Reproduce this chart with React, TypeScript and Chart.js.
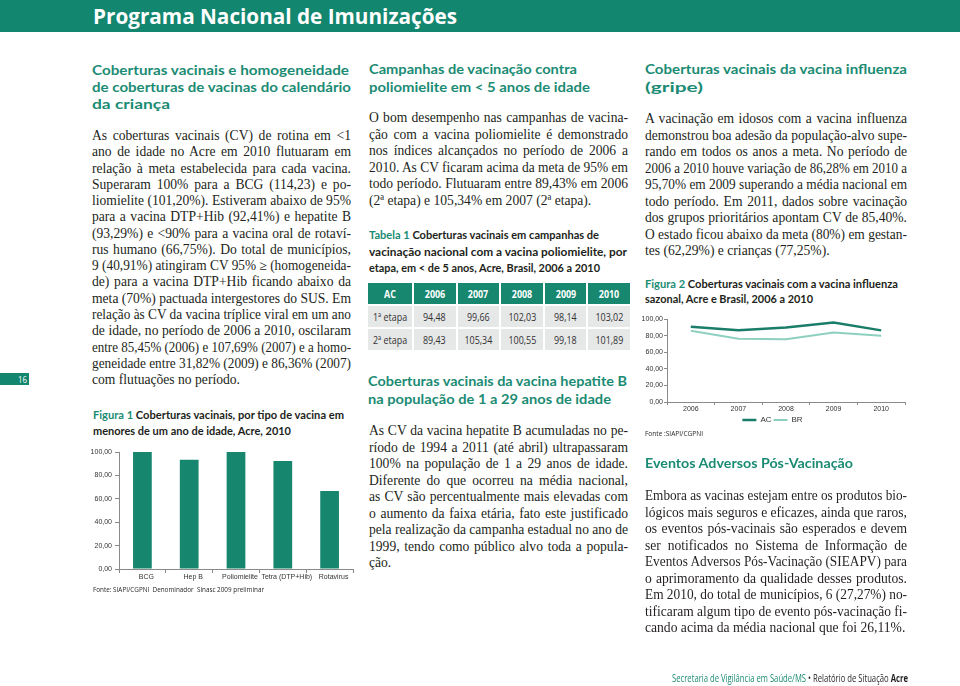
import React, { useEffect, useLayoutEffect, useRef } from "react";
import { Chart, registerables } from "chart.js";
Chart.register(...registerables);

// ---------- data ----------
const vaccineLabels = ["BCG", "Hep B", "Poliomielite", "Tetra (DTP+Hib)", "Rotavirus"];
const vaccineCoverage = [114.23, 93.29, 101.2, 92.41, 66.75];
const fluYears = ["2006", "2007", "2008", "2009", "2010"];
const fluAC = [90.6, 86.3, 89.8, 95.7, 86.28];
const fluBR = [85.8, 76.2, 75.5, 83.6, 79.8];
const seriesNames = ["AC", "BR"];
const tableYears = ["2006", "2007", "2008", "2009", "2010"];
const polioEtapa1 = ["94,48", "99,66", "102,03", "98,14", "103,02"];
const polioEtapa2 = ["89,43", "105,34", "100,55", "99,18", "101,89"];
const etapaLabels = ["1ª etapa", "2ª etapa"];

// ---------- style ----------
const TEAL = "#13866f";
const HEAD = "#1b8b74";
const INK = "#231f20";
const SANS = "'Open Sans', 'Noto Sans', sans-serif";
const HSANS = "Lato, 'Open Sans', sans-serif";
const SERIF = "'Liberation Serif', 'Times New Roman', serif";
const CF = "'Liberation Sans', Arial, sans-serif";

type LnProps = {
  x: number; y: number; w: number; size: number; lh?: number; font?: string;
  weight?: number | string; color?: string; mode?: "justify" | "fit" | "left"; children: any;
};

function Ln({ x, y, w, size, lh = 16, font = SERIF, weight = 400, color = INK, mode = "justify", children }: LnProps) {
  return (
    <div
      data-mode={mode}
      style={{
        position: "absolute", left: x, top: y - lh / 2, width: w, height: lh, lineHeight: lh + "px",
        fontSize: size, fontFamily: font, fontWeight: weight as any, color, whiteSpace: "nowrap",
      }}
    >
      <span style={{ display: "inline-block", transformOrigin: "0 50%" }}>{children}</span>
    </div>
  );
}

function Body({ x, y0, w, step, lines }: { x: number; y0: number; w: number; step: number; lines: string[] }) {
  return (
    <>
      {lines.map((t, i) => (
        <Ln key={i} x={x} y={y0 + i * step} w={w} size={13.6} lh={16} mode={i === lines.length - 1 ? "left" : "justify"}>
          {t}
        </Ln>
      ))}
    </>
  );
}

function Head({ x, y0, step, lines }: { x: number; y0: number; step: number; lines: [string, number][] }) {
  return (
    <>
      {lines.map(([t, w], i) => (
        <Ln key={i} x={x} y={y0 + i * step} w={w} size={14} lh={16} font={HSANS} weight={700} color={HEAD} mode="fit">
          {t}
        </Ln>
      ))}
    </>
  );
}

function fitAll(root: HTMLElement) {
  root.querySelectorAll<HTMLElement>("[data-mode]").forEach((el) => {
    const span = el.firstElementChild as HTMLElement;
    span.style.wordSpacing = "";
    span.style.transform = "";
    const target = el.clientWidth;
    const nat = span.getBoundingClientRect().width;
    const mode = el.dataset.mode;
    if (!nat) return;
    if (mode === "fit" || nat > target) {
      span.style.transform = `scaleX(${target / nat})`;
      return;
    }
    if (mode === "justify") {
      const n = (span.textContent || "").split(" ").length - 1;
      if (n > 0) span.style.wordSpacing = (target - nat) / n + "px";
    }
  });
}

const col1 = [
  "As coberturas vacinais (CV) de rotina em <1",
  "ano de idade no Acre em 2010 flutuaram em",
  "relação à meta estabelecida para cada vacina.",
  "Superaram 100% para a BCG (114,23) e po-",
  "liomielite (101,20%). Estiveram abaixo de 95%",
  "para a vacina DTP+Hib (92,41%) e hepatite B",
  "(93,29%) e <90% para a vacina oral de rotaví-",
  "rus humano (66,75%). Do total de municípios,",
  "9 (40,91%) atingiram CV 95% ≥ (homogeneida-",
  "de) para a vacina DTP+Hib ficando abaixo da",
  "meta (70%) pactuada intergestores do SUS. Em",
  "relação às CV da vacina tríplice viral em um ano",
  "de idade, no período de 2006 a 2010, oscilaram",
  "entre 85,45% (2006) e 107,69% (2007) e a homo-",
  "geneidade entre 31,82% (2009) e 86,36% (2007)",
  "com flutuações no período.",
];
const col2a = [
  "O bom desempenho nas campanhas de vacina-",
  "ção com a vacina poliomielite é demonstrado",
  "nos índices alcançados no período de 2006 a",
  "2010. As CV ficaram acima da meta de 95% em",
  "todo período. Flutuaram entre 89,43% em 2006",
  "(2ª etapa) e 105,34% em 2007 (2ª etapa).",
];
const col2b = [
  "As CV da vacina hepatite B acumuladas no pe-",
  "ríodo de 1994 a 2011 (até abril) ultrapassaram",
  "100% na população de 1 a 29 anos de idade.",
  "Diferente do que ocorreu na média nacional,",
  "as CV são percentualmente mais elevadas com",
  "o aumento da faixa etária, fato este justificado",
  "pela realização da campanha estadual no ano de",
  "1999, tendo como público alvo toda a popula-",
  "ção.",
];
const col3a = [
  "A vacinação em idosos com a vacina influenza",
  "demonstrou boa adesão da população-alvo supe-",
  "rando em todos os anos a meta. No período de",
  "2006 a 2010 houve variação de 86,28% em 2010 a",
  "95,70% em 2009 superando a média nacional em",
  "todo período. Em 2011, dados sobre vacinação",
  "dos grupos prioritários apontam CV de 85,40%.",
  "O estado ficou abaixo da meta (80%) em gestan-",
  "tes (62,29%) e crianças (77,25%).",
];
const col3b = [
  "Embora as vacinas estejam entre os produtos bio-",
  "lógicos mais seguros e eficazes, ainda que raros,",
  "os eventos pós-vacinais são esperados e devem",
  "ser notificados no Sistema de Informação de",
  "Eventos Adversos Pós-Vacinação (SIEAPV) para",
  "o aprimoramento da qualidade desses produtos.",
  "Em 2010, do total de municípios, 6 (27,27%) no-",
  "tificaram algum tipo de evento pós-vacinação fi-",
  "cando acima da média nacional que foi 26,11%.",
];

const fmt = (v: any) => Number(v).toFixed(2).replace(".", ",");

function BarChart() {
  const ref = useRef<HTMLCanvasElement>(null);
  useEffect(() => {
    const ch = new Chart(ref.current!, {
      type: "bar",
      data: {
        labels: vaccineLabels,
        datasets: [{ data: vaccineCoverage, backgroundColor: "#17866f", barPercentage: 0.4, categoryPercentage: 1 }],
      },
      options: {
        animation: false, responsive: false, devicePixelRatio: 1,
        layout: { padding: { top: 12, right: 7, left: 0, bottom: 0 } },
        plugins: { legend: { display: false }, tooltip: { enabled: false } },
        scales: {
          x: {
            grid: { drawOnChartArea: false, tickLength: 4, color: "#8a8a8a", offset: true },
            border: { color: "#8a8a8a" },
            ticks: { font: { family: CF, size: 7 }, color: "#333", labelOffset: 4, padding: 0, maxRotation: 0, autoSkip: false },
            afterFit: (s: any) => { s.height = 16; },
          },
          y: {
            min: 0, max: 100,
            ticks: { stepSize: 20, callback: fmt, font: { family: CF, size: 7 }, color: "#333", padding: 3 },
            grid: { drawOnChartArea: false, tickLength: 4, color: "#8a8a8a" },
            border: { color: "#8a8a8a" },
            afterFit: (s: any) => { s.width = 39; },
          },
        },
      } as any,
    });
    return () => ch.destroy();
  }, []);
  return <canvas ref={ref} width={280} height={145} style={{ position: "absolute", left: 80, top: 440 }} />;
}

function LineChart() {
  const ref = useRef<HTMLCanvasElement>(null);
  useEffect(() => {
    const ch = new Chart(ref.current!, {
      type: "line",
      data: {
        labels: fluYears,
        datasets: [
          { label: seriesNames[0], data: fluAC, borderColor: "#1a7d69", backgroundColor: "#1a7d69", borderWidth: 2.5, pointRadius: 0, tension: 0 },
          { label: seriesNames[1], data: fluBR, borderColor: "#8ed0bf", backgroundColor: "#8ed0bf", borderWidth: 2, pointRadius: 0, tension: 0 },
        ],
      },
      options: {
        animation: false, responsive: false, devicePixelRatio: 1,
        layout: { padding: { top: 11, right: 5, left: 0, bottom: 0 } },
        plugins: {
          tooltip: { enabled: false },
          legend: {
            position: "bottom",
            labels: { usePointStyle: true, pointStyle: "line", pointStyleWidth: 14, padding: 2, font: { family: CF, size: 8 }, color: "#333" },
          },
        },
        scales: {
          x: {
            offset: true,
            grid: { drawOnChartArea: false, tickLength: 3, color: "#8a8a8a", offset: true },
            border: { color: "#8a8a8a" },
            ticks: { font: { family: CF, size: 7 }, color: "#333", padding: 0, maxRotation: 0 },
            afterFit: (s: any) => { s.height = 12; },
          },
          y: {
            min: 0, max: 100,
            ticks: { stepSize: 20, callback: fmt, font: { family: CF, size: 7 }, color: "#333", padding: 1 },
            grid: { drawOnChartArea: false, tickLength: 3, color: "#8a8a8a" },
            border: { color: "#8a8a8a" },
            afterFit: (s: any) => { s.width = 27; },
          },
        },
      } as any,
    });
    return () => ch.destroy();
  }, []);
  return <canvas ref={ref} width={270} height={126} style={{ position: "absolute", left: 640, top: 308 }} />;
}

function PolioTable() {
  const rows = [["AC", ...tableYears], [etapaLabels[0], ...polioEtapa1], [etapaLabels[1], ...polioEtapa2]];
  return (
    <div
      style={{
        position: "absolute", left: 368, top: 283, width: 262, display: "grid",
        gridTemplateColumns: "44px repeat(5, 1fr)", gridAutoRows: "21px", gap: 2,
      }}
    >
      {rows.map((r, ri) =>
        r.map((c, ci) => (
          <div
            key={ri + "-" + ci}
            style={{
              background: ri === 0 ? "#17876f" : "#e6e7e7", color: ri === 0 ? "#fff" : "#333",
              fontFamily: SANS, fontWeight: ri === 0 ? 700 : 400, fontSize: 10.5,
              display: "flex", alignItems: "center", justifyContent: "center", whiteSpace: "nowrap",
            }}
          >
            <span style={{ display: "inline-block", transform: "scaleX(0.85)" }}>{c}</span>
          </div>
        ))
      )}
    </div>
  );
}

export default function App() {
  const root = useRef<HTMLDivElement>(null);
  useLayoutEffect(() => {
    if (root.current) fitAll(root.current);
    const f = (document as any).fonts;
    if (f && f.ready) f.ready.then(() => root.current && fitAll(root.current));
  }, []);
  const cap = (lab: string, rest: string) => (
    <>
      <span style={{ color: HEAD, fontWeight: 700 }}>{lab}</span> {rest}
    </>
  );
  return (
    <div ref={root} style={{ position: "absolute", left: 0, top: 0, width: 960, height: 686, background: "#fff", overflow: "hidden" }}>
      {/* header */}
      <div style={{ position: "absolute", left: 0, top: 0, width: 960, height: 31.5, background: TEAL }} />
      <Ln x={93} y={15} w={364} size={22} lh={30} font={SANS} weight={700} color="#fff" mode="fit">
        Programa Nacional de Imunizações
      </Ln>
      {/* page tab */}
      <div style={{ position: "absolute", left: 0, top: 373, width: 29, height: 11.5, background: TEAL }} />
      <Ln x={18} y={379} w={9} size={9} lh={11} font={SANS} color="#fff" mode="fit">16</Ln>

      {/* column 1 */}
      <Head x={92} y0={69.5} step={17} lines={[["Coberturas vacinais e homogeneidade", 257], ["de coberturas de vacinas do calendário", 259], ["da criança", 78]]} />
      <Body x={92} y0={136} w={259} step={16.27} lines={col1} />
      <Ln x={93} y={415} w={251} size={12} lh={14} font={HSANS} weight={700} mode="fit">{cap("Figura 1", "Coberturas vacinais, por tipo de vacina em")}</Ln>
      <Ln x={93} y={430.5} w={198} size={12} lh={14} font={HSANS} weight={700} mode="fit">menores de um ano de idade, Acre, 2010</Ln>
      <BarChart />
      <Ln x={93} y={589} w={171} size={8} lh={10} font={SANS} mode="fit">Fonte: SIAPI/CGPNI&nbsp; Denominador&nbsp; Sinasc 2009 preliminar</Ln>

      {/* column 2 */}
      <Head x={369} y0={69} step={18} lines={[["Campanhas de vacinação contra", 208], ["poliomielite em < 5 anos de idade", 221]]} />
      <Body x={369} y0={118} w={259} step={16.5} lines={col2a} />
      <Ln x={369} y={235} w={230} size={12} lh={14} font={HSANS} weight={700} mode="fit">{cap("Tabela 1", "Coberturas vacinais em campanhas de")}</Ln>
      <Ln x={369} y={251.5} w={258} size={12} lh={14} font={HSANS} weight={700} mode="fit">vacinação nacional com a vacina poliomielite, por</Ln>
      <Ln x={369} y={268} w={231} size={12} lh={14} font={HSANS} weight={700} mode="fit">etapa, em &lt; de 5 anos, Acre, Brasil, 2006 a 2010</Ln>
      <PolioTable />
      <Head x={368} y0={381} step={17.5} lines={[["Coberturas vacinais da vacina hepatite B", 259], ["na população de 1 a 29 anos de idade", 243]]} />
      <Body x={369} y0={431} w={259} step={16.5} lines={col2b} />

      {/* column 3 */}
      <Head x={645} y0={69} step={18} lines={[["Coberturas vacinais da vacina influenza", 262], ["(gripe)", 58]]} />
      <Body x={645} y0={119} w={262} step={16.5} lines={col3a} />
      <Ln x={645} y={284} w={253} size={12} lh={14} font={HSANS} weight={700} mode="fit">{cap("Figura 2", "Coberturas vacinais com a vacina influenza")}</Ln>
      <Ln x={645} y={298.5} w={168} size={12} lh={14} font={HSANS} weight={700} mode="fit">sazonal, Acre e Brasil, 2006 a 2010</Ln>
      <LineChart />
      <Ln x={645} y={433} w={58} size={8} lh={10} font={SANS} mode="fit">Fonte :SIAPI/CGPNI</Ln>
      <Head x={645} y0={463} step={18} lines={[["Eventos Adversos Pós-Vacinação", 208]]} />
      <Body x={645} y0={496} w={262} step={16.5} lines={col3b} />

      {/* footer */}
      <Ln x={672} y={678} w={236} size={10} lh={12} font={SANS} mode="fit">
        <span style={{ color: HEAD }}>Secretaria de Vigilância em Saúde/MS</span> • Relatório de Situação <b>Acre</b>
      </Ln>
    </div>
  );
}
